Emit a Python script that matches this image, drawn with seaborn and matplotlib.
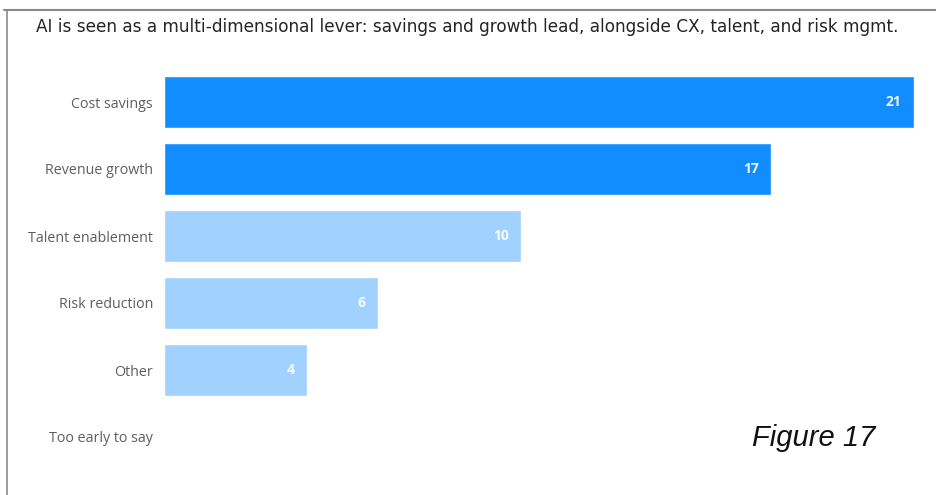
import matplotlib
matplotlib.use("Agg")
import matplotlib.pyplot as plt
import seaborn as sns
import pandas as pd
from matplotlib.lines import Line2D

categories = ["Cost savings", "Revenue growth", "Talent enablement",
              "Risk reduction", "Other", "Too early to say"]
values = [21, 17, 10, 6, 4, 0]
colors = ["#118DFF", "#118DFF", "#A0D1FF", "#A0D1FF", "#A0D1FF", "#A0D1FF"]
title = "AI is seen as a multi-dimensional lever: savings and growth lead, alongside CX, talent, and risk mgmt."
caption = "Figure 17"

sns.set_theme(style="white")
plt.rcParams["font.family"] = ["Open Sans", "DejaVu Sans"]

df = pd.DataFrame({"category": categories, "value": values})

W, H = 937, 495
fig = plt.figure(figsize=(W / 100, H / 100), dpi=100)
ax = fig.add_axes([164 / W, 1 - 470.5 / H, (914 - 164) / W, (470.5 - 68.5) / H])

sns.barplot(data=df, x="value", y="category", hue="category",
            palette=dict(zip(categories, colors)), legend=False,
            width=0.78, ax=ax, saturation=1)

ax.set_xlim(0, 21)
ax.set_ylim(5.5, -0.5)
ax.set_xlabel("")
ax.set_ylabel("")
ax.set_xticks([])
for s in ax.spines.values():
    s.set_visible(False)
ax.tick_params(axis="y", length=0, pad=8, labelsize=10.3, labelcolor="#605E5C")

# value labels inside bar ends
for i, v in enumerate(values):
    if v > 0:
        ax.annotate(str(v), xy=(v, i), xytext=(-9, 0), textcoords="offset points",
                    ha="right", va="center", color="white", fontsize=10,
                    fontweight="bold", alpha=0.92)

fig.text(467 / W, 1 - 27 / H, title, ha="center", va="center",
         fontsize=12.2, color="#252423", fontweight="medium",
         family=["Liberation Sans Narrow", "DejaVu Sans"])

fig.text(814 / W, 1 - 438 / H, caption, ha="center", va="center",
         fontsize=21, style="italic", color="#111111",
         family=["Liberation Sans", "DejaVu Sans"])

# frame lines at top and left
fig.add_artist(Line2D([4 / W, 1], [1 - 10 / H, 1 - 10 / H], transform=fig.transFigure,
                      color="#8a8a8a", lw=1.5))
fig.add_artist(Line2D([7.5 / W, 7.5 / W], [0, 1 - 10 / H], transform=fig.transFigure,
                      color="#8a8a8a", lw=1.2))

fig.savefig("out.png", dpi=100, facecolor="white")
